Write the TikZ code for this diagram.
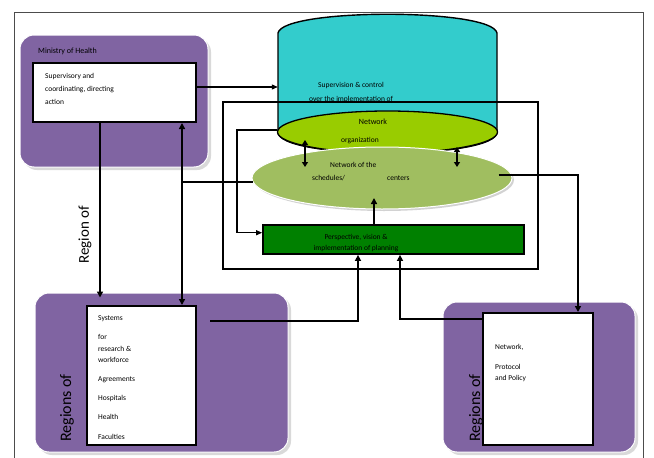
\documentclass[tikz,border=0pt]{standalone}
\usepackage{fontspec}
\setmainfont{Carlito}
\usetikzlibrary{calc,shapes.geometric,arrows.meta}
\definecolor{purp}{HTML}{8064A2}
\definecolor{cyanc}{HTML}{33CCCC}
\definecolor{ygreen}{HTML}{99CC00}
\definecolor{lgreen}{HTML}{A0BE60}
\definecolor{dgreen}{HTML}{008000}
\begin{document}
\begin{tikzpicture}[x=1pt,y=-1pt,
  purpbox/.style={draw=white, line width=1pt, fill=purp, rounded corners=14pt, inner sep=0},
  shadowbox/.style={fill=gray!30, rounded corners=14pt},
  wbox/.style={draw=black, line width=2pt, fill=white, inner sep=0},
  thinline/.style={line width=1.1pt},
  conn/.style={line width=1.8pt},
  arr/.style={conn, -{Triangle[length=6pt,width=6pt]}},
  thinarr/.style={thinline, -{Triangle[length=6pt,width=5pt]}},
  dbl/.style={conn, {Triangle[length=5pt,width=6pt]}-{Triangle[length=5pt,width=6pt]}},
  txt/.style={font=\fontsize{7.5}{11}\selectfont, inner sep=0},
  biglbl/.style={font=\fontsize{15}{15}\selectfont, rotate=90, inner sep=0},
]
\useasboundingbox (0,0) rectangle (654,458);
% outer frame
\draw[draw=black!70, line width=0.8pt] (14,470) -- (14,12) -- (643,12) -- (643,470);

% helper coordinates
\coordinate (xa) at (100,0);
\coordinate (xb) at (182,0);
\coordinate (xc) at (358,0);
\coordinate (xd) at (400,0);
\coordinate (xe) at (578,0);
\coordinate (xf) at (237,0);
\coordinate (ya) at (0,87);
\coordinate (yb) at (0,130);
\coordinate (yc) at (0,233);
\coordinate (s1) at (210,321);

% Ministry box
\fill[shadowbox] (23,38) rectangle (211,170);
\node[purpbox, minimum width=188, minimum height=132] (minp) at (114,101) {};
\node[txt, anchor=west, font=\fontsize{8}{10}\selectfont] (minl) at (38,51) {Ministry of Health};
\node[wbox, minimum width=163, minimum height=59] (mbox) at (114.5,92.5) {};
\node[txt, anchor=west, align=left, font=\fontsize{7.5}{13}\selectfont] (mtxt) at (45,89) {Supervisory and\\coordinating, directing\\action};

% bottom-left Regions box
\fill[shadowbox] (38,296) rectangle (291,455);
\node[purpbox, minimum width=253, minimum height=159] (rlp) at (161.5,372.5) {};
\node[wbox, minimum width=109, minimum height=139] (rlw) at (141.5,375.5) {};
\foreach \yy/\ww in {319/Systems, 337/for, 349/research \&, 360/workforce, 380/Agreements, 398/Hospitals, 417/Health, 437/Faculties}
  \node[txt, anchor=west] at (98,\yy) {\ww};
\node[biglbl, font=\fontsize{16}{16}\selectfont, anchor=west] (rl1) at (67,442) {Regions of};

% bottom-right Regions box
\fill[shadowbox] (446,305) rectangle (638,455);
\node[purpbox, minimum width=192, minimum height=150] (rrp) at (539,377) {};
\node[biglbl, font=\fontsize{16}{16}\selectfont, anchor=west] (rl2) at (476,442) {Regions of};
\node[wbox, minimum width=110, minimum height=132] (rrw) at (538,379) {};
\node[txt, anchor=west] at (495,347) {Network,};
\node[txt, anchor=west] at (495,367) {Protocol};
\node[txt, anchor=west] at (495,378) {and Policy};

% cylinder
\filldraw[fill=cyanc, draw=black, line width=1.4pt] (278,33) .. controls (283,8) and (492,8) .. (497,33) -- (497,132) .. controls (497,160) and (278,160) .. (278,132) -- cycle;
\node[inner sep=0, minimum width=219, minimum height=99] (cyl) at (387.5,82.5) {};
\node[txt, align=center, font=\fontsize{7.5}{14}\selectfont] (cyltxt) at (351,92) {Supervision \& control\\over the implementation of};

% inner frame
\node[draw, line width=1.1pt, minimum width=315, minimum height=167, inner sep=0] (inner) at (380.5,185.5) {};

% network ellipse
\node[ellipse, draw=black, line width=1.3pt, fill=ygreen, minimum width=220, minimum height=42, inner sep=0] (ge) at (387.5,132) {};
\node[txt, font=\fontsize{8}{10}\selectfont] at (373,122) {Network};
\node[txt] at (360,141) {organization};

% light green ellipse
\fill[gray!35] (384,180) ellipse [x radius=130, y radius=31];
\node[ellipse, draw=white, line width=1pt, fill=lgreen, minimum width=260, minimum height=62, inner sep=0] (lg) at (382,178) {};
\node[txt, anchor=west] at (330,165) {Network of the};
\node[txt, anchor=west] at (312,178) {schedules/\hspace{42pt}centers};

% dark green box
\node[draw=black, line width=1.8pt, fill=dgreen, minimum width=261, minimum height=29, inner sep=0] (dg) at (393.5,239.5) {};
\node[txt, align=center] at (356,243.5) {Perspective, vision \&\\implementation of planning};

% connectors
\draw[thinarr] (mbox.east |- ya) -- (cyl.west |- ya);
\draw[thinarr] (ge.west |- yb) -- (xf |- yb) |- ($(dg.north west)!0.28!(dg.south west)$);
\draw[dbl] ($(ge.center)+(-82.5,8)$) -- ($(lg.center)+(-77,-11)$);
\draw[dbl] ($(ge.center)+(69.5,15)$) -- ($(lg.center)+(75,-11)$);
\draw[arr] ($(dg.north)+(-19.5,0)$) -- ($(lg.center)+(-8,20)$);
\draw[arr] (xa |- mbox.south) -- ($(xa |- rlp.north)+(0,5)$);
\draw[thinline] ($(lg.west)+(1,4)$) -- ($(xb |- lg.west)+(0,4)$);
\draw[arr] ($(xb |- lg.west)+(0,4)$) -- (xb |- mbox.south);
\draw[arr] ($(xb |- lg.west)+(0,4)$) -- (xb |- rlw.north);
\draw[arr] (s1) -| (xc |- dg.south);
\draw[arr] ($(rrw.north west)+(0,7)$) -| (xd |- dg.south);
\draw[arr] ($(lg.east)+(-14,-3)$) -| (xe |- rrw.north);

% Region of label
\node[biglbl] (rlab) at (85,235) {Region of};
\end{tikzpicture}
\end{document}
